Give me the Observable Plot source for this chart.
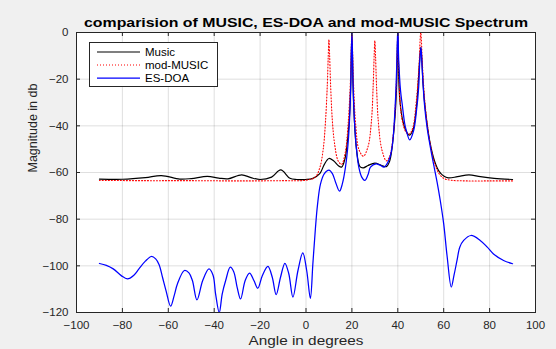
<!DOCTYPE html>
<html>
<head>
<meta charset="utf-8">
<script src="https://cdn.jsdelivr.net/npm/d3@7"></script>
<script src="https://cdn.jsdelivr.net/npm/@observablehq/plot@0.6"></script>
<style>
  html, body { margin: 0; padding: 0; background: #f0f0f0; }
  #wrap { position: relative; width: 556px; height: 349px; background: #f0f0f0; overflow: hidden; }
  #legend { position: absolute; left: 0; top: 0; pointer-events: none; }
</style>
</head>
<body>
<div id="wrap"></div>
<script>
// ---- data ----
const titleText = "comparision of MUSIC, ES-DOA and mod-MUSIC Spectrum";
const xLabel = "Angle in degrees";
const yLabel = "Magnitude in db";
const xTicks = [-100, -80, -60, -40, -20, 0, 20, 40, 60, 80, 100];
const yTicks = [-120, -100, -80, -60, -40, -20, 0];
const seriesNames = ["Music", "mod-MUSIC", "ES-DOA"];

const musicAngle = [-90, -80, -70, -63, -55, -50, -43, -38, -34, -28, -24, -20, -15, -11, -7, -4, 0, 3, 6, 8, 10, 12, 14, 15.5, 17, 18, 19, 19.5, 20, 20.5, 21, 22, 23.5, 25, 27, 30, 33, 35, 36.5, 38, 39, 39.5, 40, 40.5, 41, 42, 43.5, 45, 46.5, 48, 49, 49.5, 50, 50.5, 51, 52, 54, 56, 58, 60, 62, 66, 71, 76, 82, 90];
const musicDb = [-62.8, -62.9, -62.2, -61.3, -62.8, -62.6, -61.7, -62.4, -62.7, -61.0, -62.2, -63.0, -62.0, -58.9, -62.5, -63.0, -63.0, -62.5, -60.5, -56.5, -54.0, -55.0, -57.0, -57.7, -54, -47, -35, -22, 0, -22, -36, -50, -57.5, -58, -57, -56, -57, -57.5, -55, -45, -33, -22, 0, -22, -30, -37, -42, -44, -42, -33, -20, -12, -6.5, -12, -22, -33, -47, -55, -59.5, -61.5, -62.3, -61.8, -61.0, -61.8, -62.5, -63.0];

const modAngle = [-90, -70, -50, -30, -10, 0, 4, 6, 7.5, 8.5, 9.3, 9.7, 10, 10.3, 10.7, 11.5, 12.5, 14, 15.5, 17, 18.3, 19.3, 20, 20.7, 21.7, 23, 25, 27, 28.5, 29.3, 29.7, 30, 30.3, 30.7, 31.5, 33, 35, 36.5, 38, 39, 39.6, 40, 40.4, 41, 42, 43.5, 45, 46.5, 48, 49.2, 50, 50.8, 52, 54, 56, 58, 60, 63, 70, 80, 90];
const modDb = [-63.4, -63.5, -63.5, -63.6, -63.5, -63.3, -62, -58, -50, -38, -22, -10, -3, -10, -22, -38, -48, -55, -56.5, -52, -40, -22, -1, -22, -40, -50, -53, -49, -38, -22, -10, -3.5, -10, -22, -38, -50, -55, -53, -44, -30, -15, 0, -15, -30, -38, -42.5, -43.5, -41, -30, -15, 0, -15, -32, -47, -56, -60.5, -62.5, -63.3, -63.6, -63.6, -63.6];

const esAngle = [-90, -87, -84, -80.5, -77.8, -75, -72.8, -70, -67.4, -65.5, -64, -62.5, -61, -59, -57.5, -56, -53, -51, -49.5, -47.5, -45, -42.3, -40.5, -39.4, -37.8, -36.5, -35, -33, -31.5, -30, -28.5, -26.5, -24.6, -22.7, -21, -19, -16.6, -14.7, -13, -11.1, -9.2, -7.5, -5.7, -3.5, -1.4, 0.3, 1.9, 3, 4.1, 5, 6.3, 8, 10, 11.5, 13, 14.6, 15.8, 17.2, 18.3, 19, 19.5, 20, 20.5, 21.1, 22, 23, 24.3, 25.6, 27, 28.1, 30.5, 32.5, 34, 36, 37.5, 38.9, 39.6, 40, 40.4, 41.2, 41.9, 43, 43.7, 45.2, 46.9, 48.2, 49.1, 49.6, 50.1, 50.6, 51.6, 52.8, 54.2, 55.7, 57.1, 58.5, 60, 61.5, 63.3, 64.5, 65.8, 67, 68.7, 71.9, 75.9, 79, 81.7, 86.1, 90];
const esDb = [-99.0, -99.8, -101.3, -104.2, -105.6, -104, -101.3, -98, -96.0, -97, -99.5, -105, -110.6, -117.3, -113, -107.7, -102.0, -103, -106.3, -114.6, -106.3, -101.3, -104, -112, -120, -112, -106.3, -100.6, -102.5, -109.2, -114.2, -106.3, -103.1, -106.3, -109.6, -104.1, -100.2, -104.9, -112.3, -104.9, -98.9, -103.4, -113.4, -102, -94.4, -102, -113.9, -99, -84, -74, -65, -60.5, -59, -60.5, -64.5, -68, -65, -57.7, -48, -37, -22, 0, -22, -37.7, -50, -57.7, -62, -63.4, -61, -57.7, -56.3, -57, -57.7, -55, -49.2, -30.6, -12, 2, -12, -25, -30.6, -39, -42, -46, -42, -33, -23.4, -12, -6.3, -15, -30.6, -41, -49.2, -57, -64, -72, -82, -96, -109.1, -104, -97.7, -92, -89.1, -87, -89.1, -92, -94.9, -97.7, -99.1];

// ---- build tables ----
const music = musicAngle.map((a, i) => ({angle: a, db: musicDb[i]}));
const mod = modAngle.map((a, i) => ({angle: a, db: modDb[i]}));
const es = esAngle.map((a, i) => ({angle: a, db: esDb[i]}));

const W = 556, H = 349;
const mL = 76, mR = 21, mT = 32, mB = 37;
const pw = W - mL - mR, ph = H - mT - mB;
const axisColor = "#262626";
const font = "'Liberation Sans', Arial, sans-serif";

const chart = Plot.plot({
  width: W, height: H,
  marginLeft: mL, marginRight: mR, marginTop: mT, marginBottom: mB,
  style: {background: "transparent", fontFamily: font, fontSize: "11px", color: axisColor},
  x: {domain: [-100, 100]},
  y: {domain: [-120, 0]},
  marks: [
    Plot.frame({fill: "white", stroke: null}),
    Plot.gridX(xTicks, {stroke: axisColor, strokeOpacity: 0.15}),
    Plot.gridY(yTicks, {stroke: axisColor, strokeOpacity: 0.15}),
    Plot.line(music, {x: "angle", y: "db", stroke: "black", strokeWidth: 1.2, curve: "catmull-rom", clip: true}),
    Plot.line(mod, {x: "angle", y: "db", stroke: "red", strokeWidth: 1.1, strokeDasharray: "1,2", curve: "catmull-rom", clip: true}),
    Plot.line(es, {x: "angle", y: "db", stroke: "blue", strokeWidth: 1.25, curve: "catmull-rom", clip: true}),
    // inward ticks (bottom/top/left/right)
    Plot.ruleX(xTicks, {x: d => d, stroke: axisColor, insetTop: ph - 4}),
    Plot.ruleX(xTicks, {x: d => d, stroke: axisColor, insetBottom: ph - 4}),
    Plot.ruleY(yTicks, {y: d => d, stroke: axisColor, insetRight: pw - 4}),
    Plot.ruleY(yTicks, {y: d => d, stroke: axisColor, insetLeft: pw - 4}),
    Plot.frame({stroke: axisColor, strokeWidth: 1}),
    Plot.axisX(xTicks, {tickSize: 0, tickPadding: 8, label: null, fill: axisColor, fontSize: 11.5}),
    Plot.axisY(yTicks, {tickSize: 0, tickPadding: 8, label: null, fill: axisColor, fontSize: 11.5}),
    Plot.text([titleText], {frameAnchor: "top", dy: -10, lineAnchor: "middle", fontWeight: "bold", fontSize: 13.5, fill: "black", className: "ttl"}),
    Plot.text([xLabel], {frameAnchor: "bottom", dy: 28, lineAnchor: "middle", fontSize: 13, fill: axisColor, className: "xlab"}),
    Plot.text([yLabel], {frameAnchor: "left", dx: -44, rotate: -90, lineAnchor: "middle", fontSize: 12.5, fill: axisColor})
  ]
});

// stretch title and x label to the reference's wide text
d3.select(chart).selectAll(".ttl text").attr("textLength", 444).attr("lengthAdjust", "spacingAndGlyphs");
d3.select(chart).selectAll(".xlab text").attr("textLength", 115).attr("lengthAdjust", "spacingAndGlyphs");

const wrap = document.getElementById("wrap");
wrap.appendChild(chart);

// ---- legend overlay ----
const ns = "http://www.w3.org/2000/svg";
const leg = document.createElementNS(ns, "svg");
leg.setAttribute("id", "legend");
leg.setAttribute("width", W);
leg.setAttribute("height", H);
const box = {x: 89.5, y: 42.5, w: 128, h: 44};
const rect = document.createElementNS(ns, "rect");
rect.setAttribute("x", box.x); rect.setAttribute("y", box.y);
rect.setAttribute("width", box.w); rect.setAttribute("height", box.h);
rect.setAttribute("fill", "white"); rect.setAttribute("stroke", axisColor);
leg.appendChild(rect);
const legStyles = [
  {stroke: "black", dash: null, w: 1.2},
  {stroke: "red", dash: "1,2", w: 1.1},
  {stroke: "blue", dash: null, w: 1.25}
];
seriesNames.forEach((name, i) => {
  const y = 52 + i * 13;
  const ln = document.createElementNS(ns, "line");
  ln.setAttribute("x1", 97); ln.setAttribute("x2", 140);
  ln.setAttribute("y1", y); ln.setAttribute("y2", y);
  ln.setAttribute("stroke", legStyles[i].stroke);
  ln.setAttribute("stroke-width", legStyles[i].w);
  if (legStyles[i].dash) ln.setAttribute("stroke-dasharray", legStyles[i].dash);
  leg.appendChild(ln);
  const tx = document.createElementNS(ns, "text");
  tx.setAttribute("x", 145); tx.setAttribute("y", y);
  tx.setAttribute("dy", "0.35em");
  tx.setAttribute("font-family", font);
  tx.setAttribute("font-size", "11.5");
  tx.setAttribute("fill", "black");
  tx.textContent = name;
  leg.appendChild(tx);
});
wrap.appendChild(leg);
</script>
</body>
</html>
